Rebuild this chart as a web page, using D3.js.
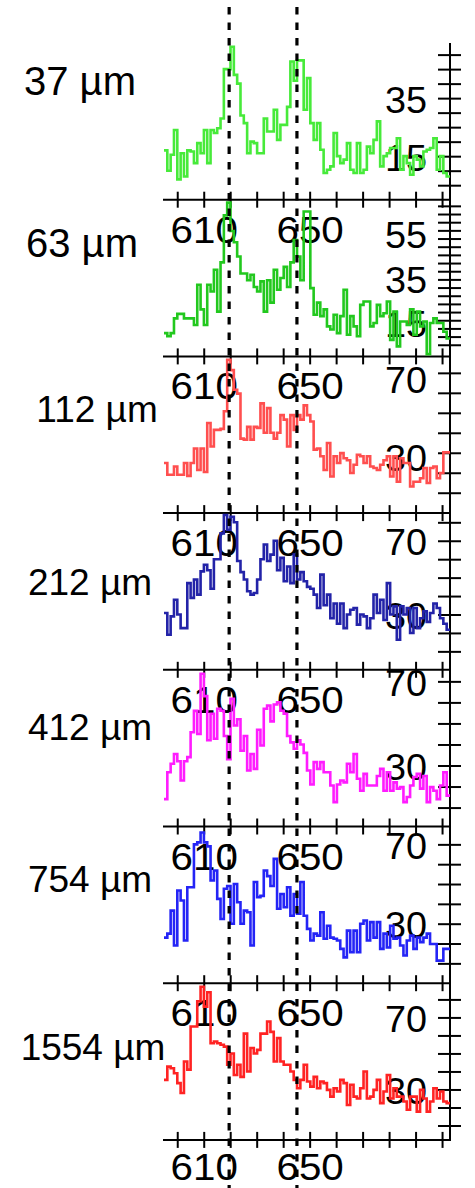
<!DOCTYPE html>
<html>
<head>
<meta charset="utf-8">
<script src="https://cdn.jsdelivr.net/npm/d3@7"></script>
<style>
  html, body { margin: 0; padding: 0; background: #fff; }
  svg text { font-family: "Liberation Sans", Arial, Helvetica, sans-serif; fill: #000; }
</style>
</head>
<body>
<svg id="chart" width="475" height="1188"></svg>
<script>
// Sample thickness for each spectrum panel, top to bottom
const sizes = ["37 µm", "63 µm", "112 µm", "212 µm", "412 µm", "754 µm", "1554 µm"];
const colors = ["#47ea3a", "#22c81e", "#ff4f4f", "#2323a8", "#ff1cff", "#2424f6", "#ff2323"];

// Spectra: counts per wavelength bin (nm)
const binStart = 595;
const binWidth = 108 / 86;
const s37 = [17,10,15.5,24,7,16,8,17,16.6,12.6, 19.5,16,24,12.6,24,23,24.6,28,45,45, 52.7,43,40,29,26.4,16,20,19.5,16,16,
  28,23.5,23.5,31,20.6,25.8,25.8,32,47.6,41, 48,48,31,41.9,26.4,20.6,26.4,17.2,9.2,10.3, 11.5,23,15,12.6,13.8,19.5,10.3,9.2,19.5,9.2,
  10.3,18.3,16,20.6,27,11.5,15,16,17.8,17.8, 21.2,10.3,15,12.6,8.6,15,13.8,11.5,16.6,17.2, 17.8,21.2,10.3,15,9.2,8];
const s63 = [10.4,9,10.4,17,19,19,17,17,17,14, 32,21,14,32,29,38.7,20,42,63,68.7, 56,51,44.6,37,37,34,36.5,31,29,33.5,
  20,34,24,38.7,29.8,35,40,31,42,52, 44.6,34,64.7,64.7,30.5,18.6,24,18,21,13.4, 12,18.6,10.4,18,29.8,9.7,18,13.4,9,23,
  24.5,24.5,13.4,14.9,23,18,19.3,24.5,7.4,20, 4.5,15.6,15.6,14,21,9.7,20,13.4,15.6,1, 14.9,17,14.9,14.9,11,8];
const s112 = [26.6,20.6,20.6,24.8,20.6,20.6,26.6,20,26.6,34, 23,34,22,47,35,43.5,43.5,44,53,79.3, 74,64,62,39,38.5,45,38.5,45,44.5,57,
  42,54.6,42,39,42,51,48.7,35,51,43.5, 51,48.7,56,51,47.8,33.4,34,30,23,36.8, 19.7,30,26.6,31.6,29,28,21.5,25.7,30.8,30,
  26.6,30,24.8,24,23,25.7,28,30,19.7,30, 17,29,26.6,26.6,14.6,17,17,18.8,24,16.4, 24,24.8,18.8,21.5,32,32];
const s212 = [30.8,19,29,38,30,22.6,22.6,47,39,49, 40.8,53.4,57,54,44,60,60,74,84,76, 83,80,59,53,49,42.6,40.8,41.7,49,60,
  68,59,62.5,70,54,60.7,48,56,47,62.5, 49,53,48,45,44,40.8,33.5,51.6,35,40.8, 28,36,25,36,22.6,30,32.6,33.5,24.5,30,
  29,22.6,28,40.8,30.8,38,27,47,30,34.4, 16.3,34.4,30,33.5,20,33.5,22.6,28,31.7,26, 30.8,36,33.5,28,25,21.7];
const s412 = [14,26.8,30.8,35.5,32,22.9,32,34,45.8,56, 45,73.6,63,42,54.6,42.7,57,56,44,33, 61.7,49,52,37,44,27.6,35.5,28.4,47,39.5,
  57,58.5,51,59,60,56,54.6,44,41,38, 42,40,36,27.6,21,31.6,28.4,31.6,26.8,26.8, 20.5,12.6,21,22.9,22,30.8,26.8,35.5,23.7,18,
  26,20.5,20.5,20.5,25,28.4,18,26.8,18,22, 19,19.7,12.6,15,20.5,24.5,26,19,25,12.6, 19.7,18,14,20.5,26.8,15.7];
const s754 = [23,25,36.6,19,46.7,41.7,21.5,48.4,48.4,70, 71,76,71,69,51.8,56.8,42.5,32.4,47.6,49, 30,50,40.8,30,36.6,35.8,19,51,43.4,44,
  56.8,54,49,62.7,37.5,45,38.3,48.4,34,45, 35,51,34,27.4,21.5,25,24,35.8,22.4,29, 23,22.4,21.5,17.3,13,26.5,15.6,26.5,15.6,30,
  31.6,21.5,30.8,23,30.8,17.3,25,18,29,22.4, 23,19,14,21.5,24,17.3,23,20.7,23,25, 19.8,19.8,11.4,11.4,17.3,17.3];
const s1554 = [35.3,42.7,41.8,39,33.5,28,45.5,41,65,65, 79,87,76,84,55.7,56.6,55.7,54.8,53.8,43.7, 50,38,43.7,37,61,40,53,50,52,61,
  61,67.7,62,45.5,58.5,45.5,43.7,43.7,40,35.3, 30.7,35.3,43.7,34.4,31.6,37,30.7,34.4,33.5,29.8, 26,30.7,28.9,35.3,33.5,21.4,32.6,26,25,30.7,
  40,25,26,29.8,35.3,22.4,28.9,38,25,30.7, 26,26,23.3,18.7,26,26,17.7,29.8,25,17.7, 23.3,30.7,25,28.9,23.3,22.4];
const spectra = [s37, s63, s112, s212, s412, s754, s1554];

// Axes
const xDomain = [595, 703];
const xTickValues = d3.range(600, 701, 10);
const xTickLabels = [610, 650];
const yDomains = [[0, 54], [0, 70], [1, 81], [0, 85], [1, 75.5], [0, 79], [2, 89]];
const yTickValues = [
  d3.range(5, 51, 5),
  d3.range(5.2, 68, 3.65),
  d3.range(11.4, 80, 10.2),
  d3.range(10, 81, 10),
  d3.range(10, 71, 10),
  d3.range(10, 71, 10),
  d3.range(10, 81, 10)
];
const yTickLabels = [[15, 35], [15, 35, 55], [30, 70], [30, 70], [30, 70], [30, 70], [30, 70]];
// Reference wavelengths (nm) marked across all panels
const markerLines = [619.6, 645.2];

// Layout
const W = 475, H = 1188;
const top0 = 43, panelH = 156.7;
const xLeft = 164, xRight = 450;
const fontSize = 36;
const sizeLabelPos = [[80, 95], [82, 257], [97, 422], [90, 595], [90, 740], [90, 892], [93, 1060]];
const sizeLabelFont = [40, 40, 37, 37, 37, 37, 37];

const svg = d3.select("#chart");
const x = d3.scaleLinear().domain(xDomain).range([xLeft, xRight]);

const gLabels = svg.append("g");
const gAxes = svg.append("g");
const gData = svg.append("g");
const gMarks = svg.append("g");

// widen glyphs horizontally by a factor, keeping the anchor
function widen(sel, factor) {
  sel.each(function () {
    const len = this.getComputedTextLength();
    d3.select(this).attr("textLength", len * factor).attr("lengthAdjust", "spacingAndGlyphs");
  });
}

spectra.forEach((vals, i) => {
  const pTop = top0 + i * panelH;
  const pBot = pTop + panelH;
  const y = d3.scaleLinear().domain(yDomains[i]).range([pBot, pTop]);
  const last = i === spectra.length - 1;

  // bottom axis with ticks crossing the line
  const xAxis = d3.axisBottom(x).tickValues(xTickValues).tickSize(0).tickFormat("");
  const gx = gAxes.append("g").attr("transform", `translate(0,${pBot})`).call(xAxis);
  gx.select(".domain").remove();
  gx.append("line").attr("x1", xLeft - 1).attr("x2", xRight + 1)
    .attr("stroke", "#000").attr("stroke-width", 2);
  gx.selectAll(".tick").append("line")
    .attr("y1", -8).attr("y2", 8).attr("stroke", "#000").attr("stroke-width", 2);
  gx.selectAll(".tick").filter(d => xTickLabels.includes(d)).append("text")
    .attr("y", last ? 40 : 43).attr("text-anchor", "middle")
    .style("font-size", fontSize + "px").text(d => d)
    .call(widen, 1.12);

  // right axis
  const yAxis = d3.axisRight(y).tickValues(yTickValues[i]).tickSize(0).tickFormat("");
  const gy = gAxes.append("g").attr("transform", `translate(${xRight},0)`).call(yAxis);
  gy.select(".domain").remove();
  gy.append("line").attr("y1", pTop).attr("y2", pBot + 1)
    .attr("stroke", "#000").attr("stroke-width", 2);
  gy.selectAll(".tick").append("line")
    .attr("x1", -12).attr("x2", 11).attr("stroke", "#000").attr("stroke-width", 2);
  gAxes.append("g").selectAll("text").data(yTickLabels[i]).join("text")
    .attr("x", xRight - 23).attr("y", d => y(d) + 2)
    .attr("dy", "0.35em").attr("text-anchor", "end")
    .style("font-size", fontSize + "px").text(d => d)
    .call(widen, 1.05);

  // spectrum as a step line
  const pts = vals.map((v, k) => [binStart + k * binWidth, v]);
  pts.push([binStart + vals.length * binWidth, vals[vals.length - 1]]);
  const line = d3.line().x(d => x(d[0])).y(d => y(d[1])).curve(d3.curveStepAfter);
  gData.append("path").datum(pts)
    .attr("d", line).attr("fill", "none")
    .attr("stroke", colors[i]).attr("stroke-width", 2.6)
    .attr("stroke-linejoin", "miter");

  // thickness label
  gLabels.append("text")
    .attr("x", sizeLabelPos[i][0]).attr("y", sizeLabelPos[i][1])
    .attr("text-anchor", "middle")
    .style("font-size", sizeLabelFont[i] + "px").text(sizes[i]);
});

// dashed reference lines through every panel
gMarks.selectAll("line").data(markerLines).join("line")
  .attr("x1", d => x(d)).attr("x2", d => x(d))
  .attr("y1", 7).attr("y2", H)
  .attr("stroke", "#000").attr("stroke-width", 3.2)
  .attr("stroke-dasharray", "7.5 8");
</script>
</body>
</html>
